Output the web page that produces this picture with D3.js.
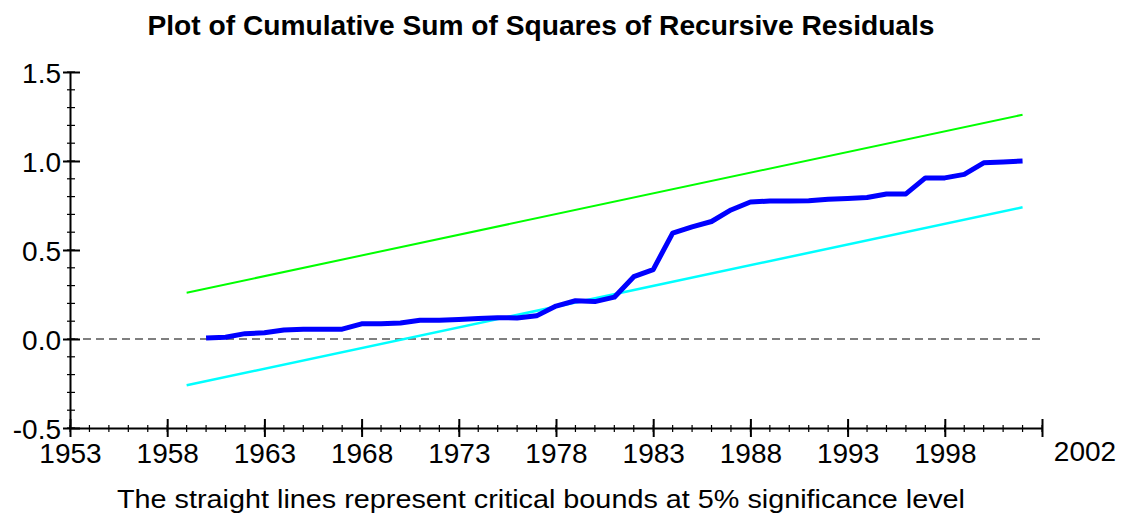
<!DOCTYPE html>
<meta charset="utf-8">
<style>
body{margin:0;background:#fff;}
text{font-family:"Liberation Sans",Arial,sans-serif;fill:#000;}
.title{font-size:28px;font-weight:bold;text-anchor:middle;}
.note{font-size:26px;text-anchor:middle;}
.axis text{font-size:28px;}
.axis path,.axis line{stroke:#000;stroke-width:2px;}
</style>
<body>
<script src="https://cdn.jsdelivr.net/npm/d3@7"></script>
<script>

var years=[1960,1961,1962,1963,1964,1965,1966,1967,1968,1969,1970,1971,1972,1973,1974,1975,1976,1977,1978,1979,1980,
	1981,1982,1983,1984,1985,1986,1987,1988,1989,1990,1991,1992,1993,1994,1995,1996,1997,1998,1999,2000,2001,2002];
var cusumsq=[0.005,0.01,0.03,0.035,0.05,0.055,0.055,0.055,0.085,0.085,0.09,0.105,0.105,0.11,0.115,0.12,0.118,0.13,0.185,0.215,0.21,
	0.235,0.35,0.39,0.595,0.63,0.66,0.725,0.77,0.775,0.775,0.777,0.785,0.79,0.795,0.815,0.815,0.905,0.905,0.925,0.99,0.995,1.0];
var boundYears=[1959,2002];
var upperBound=[0.26,1.26];
var lowerBound=[-0.26,0.74];
var xTicks=[1953,1958,1963,1968,1973,1978,1983,1988,1993,1998];
var yTicks=[-0.5,0.0,0.5,1.0,1.5];

var W=1137,H=519;
var svg=d3.select("body").append("svg").attr("width",W).attr("height",H);

var x=d3.scaleLinear().domain([1953,2003]).range([70,1042]);
var y=d3.scaleLinear().domain([-0.5,1.5]).range([428,72]);

svg.append("text").attr("class","title").attr("x",541).attr("y",35)
	.attr("textLength",787).attr("lengthAdjust","spacingAndGlyphs")
	.text("Plot of Cumulative Sum of Squares of Recursive Residuals");

// zero reference
svg.append("line")
	.attr("x1",x(1953)).attr("x2",x(2003))
	.attr("y1",y(0)).attr("y2",y(0))
	.attr("stroke","#555").attr("stroke-width",1.5).attr("stroke-dasharray","8,5");

// minor ticks
var minorX=d3.range(1953,2004);
svg.append("g").selectAll("line").data(minorX).join("line")
	.attr("x1",d=>x(d)).attr("x2",d=>x(d))
	.attr("y1",y(-0.5)-3).attr("y2",y(-0.5)+4)
	.attr("stroke","#000").attr("stroke-width",1.2);
var minorY=d3.range(-5,16).map(d=>d/10);
svg.append("g").selectAll("line").data(minorY).join("line")
	.attr("x1",x(1953)-3).attr("x2",x(1953)+5)
	.attr("y1",d=>y(d)).attr("y2",d=>y(d))
	.attr("stroke","#000").attr("stroke-width",1.2);

var gx=svg.append("g").attr("class","axis").attr("transform","translate(0,"+y(-0.5)+")")
	.call(d3.axisBottom(x).tickValues(xTicks.concat([2003])).tickFormat(d=>d==2003?"":d3.format("d")(d))
		.tickSizeInner(9).tickSizeOuter(0));
gx.selectAll(".tick line").attr("y1",-9);
gx.selectAll(".tick text").attr("y",35).attr("dy",0);

var fmtY=d=>d3.format(".1f")(d).replace("\u2212","-");
var gy=svg.append("g").attr("class","axis").attr("transform","translate("+x(1953)+",0)")
	.call(d3.axisRight(y).tickValues(yTicks).tickFormat(fmtY)
		.tickSizeInner(10).tickSizeOuter(0).tickPadding(0));
gy.selectAll(".tick line").attr("x1",-7);
gy.selectAll(".tick text").attr("x",-9).attr("text-anchor","end").attr("dy","0.36em");

svg.append("text").attr("class","axis").attr("x",x(2003)+43).attr("y",y(-0.5)+33)
	.attr("text-anchor","middle").style("font-size","28px").text("2002");

var line=d3.line().x(d=>x(d[0])).y(d=>y(d[1]));

svg.append("path").datum(boundYears.map((d,i)=>[d,upperBound[i]]))
	.attr("d",line).attr("fill","none").attr("stroke","#00ff00").attr("stroke-width",2);
svg.append("path").datum(boundYears.map((d,i)=>[d,lowerBound[i]]))
	.attr("d",line).attr("fill","none").attr("stroke","#00ffff").attr("stroke-width",2.5);
svg.append("path").datum(years.map((d,i)=>[d,cusumsq[i]]))
	.attr("d",line).attr("fill","none").attr("stroke","#0000ff").attr("stroke-width",5)
	.attr("stroke-linejoin","round");

svg.append("text").attr("class","note").attr("x",541).attr("y",508)
	.attr("textLength",848).attr("lengthAdjust","spacingAndGlyphs")
	.text("The straight lines represent critical bounds at 5% significance level");
</script>
</body>
</html>
